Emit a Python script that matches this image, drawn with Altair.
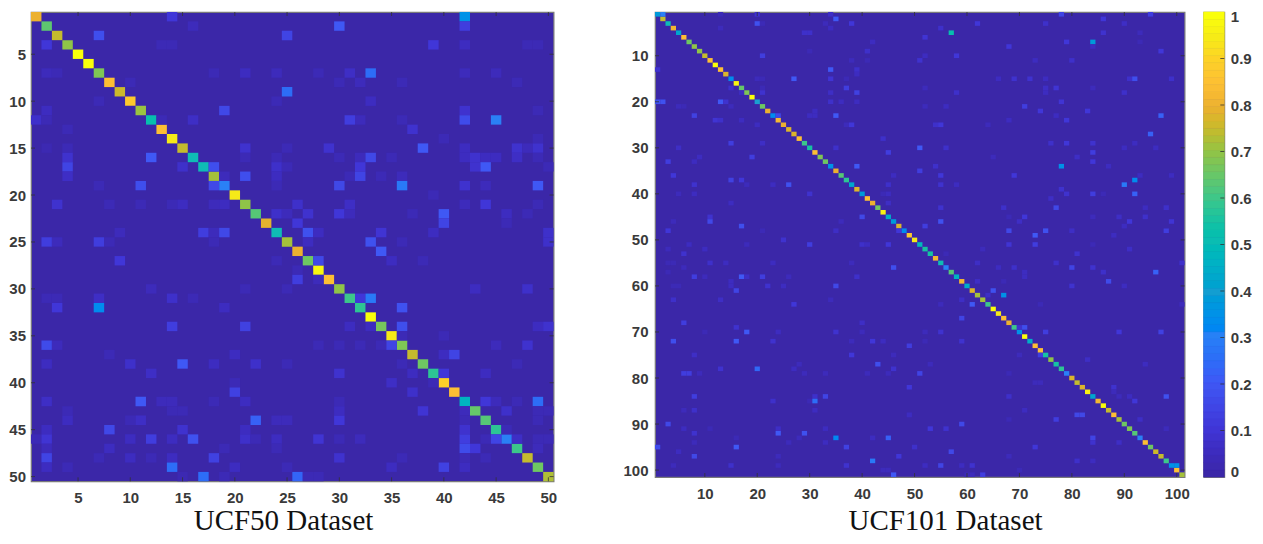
import altair as alt
import pandas as pd

# Colour map
color_stops = [0, 0.05, 0.1, 0.2, 0.3, 0.4, 0.5, 0.6, 0.7, 0.75, 0.8, 0.85, 0.9, 0.95, 1]
color_hexes = ["#3b27a8", "#3d2cc0", "#4036d8", "#3f58f5", "#2a80f6", "#1a9fd0", "#0fbcb5", "#3cc78a",
               "#8fc448", "#c4bb2e", "#ecb130", "#fdbf34", "#fdd028", "#f6ea18", "#faff0a"]
BG = "#3b27a8"

# UCF50: diagonal values for classes 1..50
ucf50_diag = [.80, .64, .75, .70, 1.0, 1.0, .68, .85, .76, .88, .71, .52, .85, .95, .75, .50, .50, .72, .30, .95,
              .70, .63, .79, .50, .72, .80, .66, .98, .85, .70, .60, .58, 1.0, .67, .95, .68, .75, .66, .58, .90,
              .85, .47, .65, .63, .58, .30, .60, .75, .66, .73]
# UCF50: off-diagonal entries (row, col, value)
ucf50_off = [
 (1,14,.10),(1,42,.35),(2,16,.04),(2,30,.20),(2,42,.12),(3,7,.17),(3,25,.14),(4,2,.10),(4,13,.03),(4,14,.03),
 (4,39,.10),(4,42,.05),(4,48,.03),(4,49,.03),(7,2,.04),(7,3,.03),(7,18,.03),(7,21,.05),(7,24,.04),(7,28,.03),
 (7,31,.06),(7,33,.25),(7,42,.04),(7,45,.04),(8,10,.03),(8,30,.03),(8,32,.04),(8,36,.03),(8,47,.03),(9,25,.25),
 (10,7,.03),(10,24,.03),(10,33,.05),(11,2,.05),(11,19,.15),(11,42,.08),(11,49,.03),(12,1,.07),(12,2,.03),(12,13,.03),
 (12,16,.06),(12,31,.12),(12,32,.04),(12,36,.03),(12,42,.16),(12,45,.30),(13,4,.03),(13,37,.08),(14,40,.03),(14,49,.03),
 (15,2,.02),(15,4,.03),(15,21,.08),(15,25,.03),(15,29,.08),(15,38,.20),(15,42,.05),(15,47,.08),(15,48,.04),(15,49,.08),
 (16,4,.08),(16,12,.20),(16,21,.03),(16,24,.03),(16,30,.03),(16,32,.04),(16,33,.15),(16,35,.03),(16,42,.05),(16,43,.08),
 (16,44,.05),(16,45,.05),(16,47,.06),(16,49,.03),(17,4,.14),(17,15,.07),(17,18,.17),(17,24,.07),(17,25,.03),(17,32,.10),
 (17,43,.08),(17,44,.20),(17,50,.03),(18,4,.06),(18,19,.04),(18,21,.17),(18,24,.05),(18,31,.03),(18,32,.14),(18,34,.03),
 (18,36,.04),(19,7,.03),(19,11,.17),(19,18,.15),(19,24,.03),(19,30,.15),(19,36,.28),(19,42,.08),(19,44,.04),(19,49,.20),
 (20,39,.03),(21,3,.08),(21,8,.03),(21,11,.03),(21,14,.03),(21,15,.05),(21,18,.04),(21,19,.05),(21,26,.07),(21,31,.06),
 (21,42,.04),(21,44,.10),(21,49,.03),(22,24,.07),(22,25,.04),(22,27,.08),(22,30,.10),(22,31,.04),(22,37,.03),(22,40,.20),
 (22,46,.05),(22,48,.03),(23,26,.10),(23,40,.14),(23,46,.03),(24,9,.04),(24,17,.12),(24,18,.04),(24,19,.15),(24,27,.18),
 (24,28,.05),(24,34,.09),(24,39,.05),(24,50,.07),(25,2,.12),(25,3,.04),(25,7,.12),(25,8,.03),(25,18,.03),(25,27,.05),
 (25,33,.18),(25,36,.03),(25,50,.07),(26,34,.20),(27,9,.10),(27,24,.03),(27,28,.15),(27,35,.05),(27,38,.03),(28,26,.03),
 (29,26,.12),(29,28,.04),(30,12,.04),(30,21,.03),(30,25,.03),(30,43,.05),(30,48,.07),(31,2,.03),(31,3,.03),(31,7,.06),
 (31,14,.07),(31,16,.03),(31,32,.10),(31,33,.28),(32,3,.10),(32,7,.33),(32,19,.05),(32,36,.18),(34,14,.12),(34,21,.13),
 (34,31,.05),(34,33,.05),(34,36,.17),(34,49,.05),(34,50,.08),(35,36,.03),(35,40,.03),(36,2,.16),(36,3,.04),(36,28,.03),
 (36,30,.03),(36,32,.03),(36,34,.03),(36,35,.14),(36,45,.04),(36,48,.08),(37,8,.03),(37,20,.05),(37,40,.05),(37,41,.14),
 (38,2,.05),(38,10,.07),(38,15,.20),(38,18,.05),(38,22,.07),(38,25,.03),(38,36,.03),(38,47,.03),(39,12,.06),(39,30,.08),
 (39,37,.05),(39,40,.10),(39,44,.05),(40,20,.03),(40,35,.06),(40,39,.03),(41,20,.13),(41,37,.07),(42,2,.06),(42,11,.20),
 (42,13,.04),(42,14,.04),(42,18,.03),(42,21,.05),(42,30,.03),(42,44,.10),(42,45,.04),(42,47,.03),(42,49,.25),(43,4,.03),
 (43,14,.03),(43,15,.03),(43,30,.05),(43,38,.09),(43,42,.04),(43,46,.07),(43,49,.03),(43,50,.03),(44,4,.05),(44,10,.03),
 (44,11,.06),(44,22,.22),(44,24,.04),(44,25,.04),(44,30,.10),(44,42,.03),(44,49,.03),(45,2,.05),(45,8,.15),(45,15,.08),
 (45,21,.05),(45,42,.08),(45,46,.03),(46,1,.03),(46,2,.09),(46,10,.05),(46,12,.12),(46,14,.05),(46,16,.18),(46,21,.07),
 (46,22,.03),(46,24,.05),(46,28,.09),(46,30,.03),(46,32,.04),(46,42,.12),(46,44,.03),(46,45,.14),(46,47,.06),(46,49,.03),
 (46,50,.03),(47,2,.04),(47,8,.05),(47,19,.03),(47,24,.03),(47,42,.16),(47,43,.10),(47,49,.04),(48,2,.14),(48,7,.03),
 (48,10,.05),(48,12,.03),(48,14,.05),(48,18,.13),(48,30,.08),(48,36,.03),(48,42,.03),(48,44,.03),(49,2,.05),(49,4,.03),
 (49,14,.25),(49,20,.05),(49,25,.03),(49,35,.05),(49,40,.13),(49,42,.05),(50,15,.02),(50,17,.25),(50,19,.03),(50,26,.23),
 (50,27,.03),(50,28,.03),
]

# UCF101: diagonal values for classes 1..101
ucf101_diag = [.38, .75, .50, .82, .42, .85, .66, .70, .70, .75, .85, 1.0, .85, .78, .33, .98, .65, .68, 1.0, .40,
               .66, .80, .33, .83, .80, .78, .78, .85, .60, .55, .85, .68, .66, .35, .80, .63, .58, .42, .78, .38,
               .85, .80, .66, .97, .45, .38, .78, .33, .88, .95, .48, .55, .55, .82, .50, .30, .63, .47, .82, .45,
               .78, .72, .72, .60, 1.0, .95, .85, .80, .60, .35, 1.0, .45, .85, .85, .55, .70, .55, .58, .30, .78,
               .75, .78, .97, .42, .82, 1.0, .75, .85, .72, .66, .68, .63, .30, .85, .66, .76, .75, .60, .35, .85, .72]
# UCF101: off-diagonal entries (row, col, value)
ucf101_off = [
 (1,2,.30),(1,13,.03),(1,20,.08),(1,34,.06),(1,78,.14),(1,95,.12),(2,35,.20),(2,86,.10),(3,20,.18),(3,21,.03),
 (3,33,.04),(3,38,.10),(3,62,.10),(3,75,.07),(3,90,.06),(4,13,.04),(4,34,.05),(4,55,.07),(5,29,.07),(5,30,.07),
 (5,57,.52),(5,86,.08),(5,93,.04),(6,52,.09),(7,42,.05),(7,79,.10),(7,84,.38),(7,93,.03),(8,68,.10),(8,84,.05),
 (9,30,.03),(9,41,.07),(9,97,.10),(10,21,.12),(10,52,.05),(10,58,.10),(11,38,.04),(11,41,.03),(11,51,.08),(11,73,.05),
 (11,80,.07),(13,1,.08),(13,34,.20),(13,39,.07),(14,39,.05),(15,20,.04),(15,21,.03),(15,27,.20),(15,34,.09),(15,37,.03),
 (15,66,.05),(15,69,.08),(15,72,.08),(15,75,.05),(15,91,.07),(15,92,.17),(15,99,.07),(17,15,.07),(17,21,.03),(17,37,.12),
 (17,52,.04),(17,75,.06),(17,77,.09),(17,84,.04),(18,17,.05),(18,21,.08),(18,34,.06),(18,39,.13),(18,58,.07),(18,75,.05),
 (18,90,.07),(20,1,.18),(20,2,.18),(20,13,.20),(20,14,.08),(20,34,.07),(20,36,.05),(20,39,.05),(20,78,.09),(21,5,.04),
 (21,6,.03),(21,15,.04),(21,52,.04),(21,56,.05),(21,71,.12),(22,31,.05),(22,74,.10),(22,83,.10),(23,8,.13),(23,24,.15),
 (23,30,.05),(23,31,.05),(23,35,.20),(23,77,.05),(23,97,.22),(24,12,.09),(24,13,.07),(24,17,.05),(24,68,.05),(24,79,.10),
 (25,20,.05),(25,37,.04),(25,38,.10),(25,54,.07),(25,55,.10),(25,64,.04),(27,95,.22),(28,44,.07),(29,15,.12),(29,21,.06),
 (29,76,.07),(29,79,.10),(29,84,.08),(29,92,.05),(30,5,.06),(30,35,.07),(30,51,.20),(30,56,.07),(30,90,.05),(30,96,.05),
 (31,45,.12),(31,84,.12),(32,9,.05),(32,19,.12),(32,65,.04),(32,81,.06),(33,3,.12),(33,8,.05),(33,84,.10),(34,39,.20),
 (34,54,.07),(34,78,.35),(34,87,.05),(35,51,.12),(36,4,.10),(36,46,.05),(36,55,.10),(36,69,.10),(36,93,.05),(36,99,.05),
 (37,15,.13),(37,17,.10),(37,92,.33),(38,8,.08),(38,18,.04),(38,23,.05),(38,26,.18),(38,45,.07),(38,55,.08),(38,58,.05),
 (38,90,.28),(39,78,.08),(40,5,.04),(40,8,.05),(40,30,.08),(40,44,.03),(40,45,.05),(40,79,.08),(40,84,.12),(40,86,.03),
 (40,92,.22),(41,76,.06),(42,15,.05),(42,45,.06),(43,55,.08),(43,67,.07),(43,77,.15),(43,94,.05),(43,98,.07),(45,11,.08),
 (45,40,.15),(45,68,.03),(45,71,.10),(45,84,.04),(45,89,.06),(45,94,.07),(46,4,.04),(46,11,.15),(46,36,.04),(46,55,.18),
 (46,70,.06),(46,91,.10),(46,99,.09),(47,17,.17),(47,52,.12),(47,90,.05),(48,3,.10),(48,21,.03),(48,35,.06),
 (48,47,.10),(48,68,.15),(48,75,.18),(48,80,.06),(48,98,.12),(49,73,.20),(49,88,.05),(50,25,.08),(51,7,.05),(51,18,.04),
 (51,30,.12),(51,40,.07),(51,41,.05),(51,45,.10),(51,68,.09),(51,73,.12),(51,84,.03),(52,3,.04),(52,10,.05),(52,63,.04),
 (52,91,.06),(53,6,.08),(53,56,.03),(53,81,.08),(55,3,.03),(55,4,.03),(55,11,.07),(55,14,.05),(55,23,.05),(55,38,.04),
 (55,62,.06),(55,77,.07),(55,101,.07),(56,6,.04),(56,46,.17),(56,66,.05),(56,69,.07),(56,80,.14),(56,84,.08),(57,3,.03),
 (57,71,.05),(57,86,.07),(57,96,.22),(58,8,.12),(58,10,.04),(58,17,.20),(58,18,.06),(58,21,.12),(58,26,.04),(58,39,.07),
 (58,71,.05),(59,15,.05),(59,62,.06),(59,67,.03),(59,87,.16),(60,4,.03),(60,5,.03),(60,15,.05),(60,22,.08),(60,25,.05),
 (60,35,.15),(60,80,.08),(60,90,.05),(61,16,.14),(61,65,.18),(62,64,.06),(62,67,.35),(63,4,.07),(63,13,.06),(63,34,.04),
 (63,59,.06),(64,27,.10),(64,55,.04),(64,61,.20),(64,74,.03),(64,101,.04),(67,59,.14),(68,6,.12),(68,40,.06),(69,16,.08),
 (69,70,.08),(69,71,.17),(70,10,.03),(70,18,.20),(70,24,.05),(70,35,.08),(70,40,.04),(70,52,.04),(70,55,.08),(70,75,.12),
 (70,89,.10),(70,97,.13),(72,4,.17),(72,16,.20),(72,23,.08),(72,38,.04),(72,42,.10),(72,44,.05),(72,52,.03),(72,59,.08),
 (73,49,.12),(75,8,.06),(75,38,.10),(75,46,.04),(75,70,.04),(75,74,.12),(76,83,.06),(77,28,.04),(77,43,.17),(77,53,.04),
 (77,94,.05),(78,13,.08),(78,20,.24),(78,27,.05),(78,46,.08),(79,6,.12),(79,7,.12),(79,9,.04),(79,29,.04),(79,33,.04),
 (79,41,.04),(79,45,.04),(79,51,.14),(79,68,.03),(81,73,.04),(81,74,.04),(82,49,.10),(82,88,.08),(83,88,.04),(84,8,.12),
 (84,31,.07),(84,33,.14),(84,68,.07),(84,89,.04),(84,91,.05),(84,98,.18),(85,23,.07),(85,30,.03),(85,31,.25),(85,92,.10),
 (87,6,.04),(87,8,.07),(87,31,.05),(87,71,.05),(88,49,.05),(88,81,.15),(88,82,.15),(89,68,.03),(89,77,.12),(89,93,.06),
 (90,3,.15),(90,59,.15),(91,6,.05),(91,11,.03),(91,24,.06),(91,33,.05),(91,53,.10),(91,56,.08),(91,98,.04),(92,8,.08),
 (92,24,.20),(92,29,.18),(93,16,.03),(93,28,.04),(93,35,.32),(93,42,.05),(93,45,.22),(93,84,.14),(94,8,.04),(94,26,.04),
 (94,33,.05),(94,84,.08),(94,89,.06),(95,1,.16),(95,16,.20),(95,37,.13),(95,50,.07),(95,73,.10),(96,5,.05),(96,57,.15),
 (97,8,.15),(97,24,.04),(97,47,.10),(97,68,.04),(98,42,.28),(98,81,.07),(98,84,.05),(99,4,.04),(99,15,.07),(99,24,.04),
 (99,37,.08),(99,52,.05),(99,55,.14),(99,59,.05),(99,61,.08),(99,100,.35),(100,44,.04),(100,45,.04),(100,70,.03),(101,46,.20),
 (101,60,.03),(101,61,.04),(101,63,.12),
]

colorbar_ticks = [0.1, 0.2, 0.3, 0.4, 0.5, 0.6, 0.7, 0.8, 0.9]
colorbar_labels = [0, 0.1, 0.2, 0.3, 0.4, 0.5, 0.6, 0.7, 0.8, 0.9, 1]
LEVELS = 64

color_scale = alt.Scale(domain=color_stops, range=color_hexes, clamp=True)
FRAME = "#7a7a7a"
TICK = "#333333"


def axis_opts(pad, **kw):
    return alt.Axis(grid=False, domain=False, ticks=False, labelFont="Liberation Sans", labelFontSize=15,
                    labelFontWeight="bold", labelColor="#3a3a3a", labelPadding=pad, **kw)


def heatmap(diag, off, n, ticks, w, h, title, title_x, title_y, ylab_pad):
    cells = [(i + 1, i + 1, v) for i, v in enumerate(diag)] + list(off)
    df = pd.DataFrame(cells, columns=["row", "col", "val"])
    df["x0"], df["x1"] = df.col - 0.5, df.col + 0.5
    df["y0"], df["y1"] = df.row - 0.5, df.row + 0.5
    xs = alt.Scale(domain=[0.5, n + 0.5], nice=False, zero=False)
    ys = alt.Scale(domain=[n + 0.5, 0.5], nice=False, zero=False)
    xa = axis_opts(9, values=ticks, title=title, titleFont="Liberation Serif", titleFontSize=29,
                   titleFontWeight="normal", titleColor="#111111", titleX=title_x, titleY=title_y,
                   titleBaseline="alphabetic")
    ya = axis_opts(ylab_pad, values=ticks, title=None)
    rects = alt.Chart(df).mark_rect(strokeWidth=0).encode(
        x=alt.X("x0:Q", scale=xs, axis=xa),
        x2="x1:Q",
        y=alt.Y("y0:Q", scale=ys, axis=ya),
        y2="y1:Q",
        color=alt.Color("val:Q", scale=color_scale, legend=None),
    )
    t = pd.DataFrame({"t": ticks})
    xt = alt.X("t:Q", scale=xs, axis=xa)
    yt = alt.Y("t:Q", scale=ys, axis=ya)
    mk = alt.Chart(t).mark_rule(color=TICK, strokeWidth=1, opacity=0.8)
    layers = [
        rects,
        mk.encode(x=xt, y=alt.value(0), y2=alt.value(4)),
        mk.encode(x=xt, y=alt.value(h), y2=alt.value(h - 4)),
        mk.encode(y=yt, x=alt.value(0), x2=alt.value(4)),
        mk.encode(y=yt, x=alt.value(w), x2=alt.value(w - 4)),
    ]
    return alt.layer(*layers).properties(width=w, height=h)


left = heatmap(ucf50_diag, ucf50_off, 50, list(range(5, 51, 5)), 522.6, 469.3, "UCF50 Dataset", 252, 48.5, 5.5)
right = heatmap(ucf101_diag, ucf101_off, 101, list(range(10, 101, 10)), 529.6, 465, "UCF101 Dataset", 290, 52.8, 7)

cb = pd.DataFrame({"level": range(LEVELS)})
cb["y0"] = cb.level / LEVELS
cb["y1"] = (cb.level + 1) / LEVELS
cb["val"] = cb.level / (LEVELS - 1)
cb_y = alt.Scale(domain=[0, 1], nice=False, zero=False)
cb_axis = alt.Axis(orient="right", values=colorbar_labels, format=".1~f", title=None, grid=False, domain=False,
                   ticks=False, labelFont="Liberation Sans", labelFontSize=15, labelFontWeight="bold",
                   labelColor="#3a3a3a", labelPadding=6, labelFlush=True, labelFlushOffset=2.8)
cb_rect = alt.Chart(cb).mark_rect(strokeWidth=0.6).encode(
    x=alt.value(0), x2=alt.value(20.7),
    y=alt.Y("y0:Q", scale=cb_y, axis=cb_axis),
    y2="y1:Q",
    color=alt.Color("val:Q", scale=color_scale, legend=None),
    stroke=alt.Stroke("val:Q", scale=color_scale, legend=None),
)
cb_ticks = alt.Chart(pd.DataFrame({"t": colorbar_ticks})).mark_rule(color=TICK, strokeWidth=1, opacity=0.8).encode(
    y=alt.Y("t:Q", scale=cb_y, axis=cb_axis), x=alt.value(20.7), x2=alt.value(16.7)
)
colorbar = alt.layer(cb_rect, cb_ticks).properties(width=20.7, height=465)

right_group = alt.hconcat(right, colorbar, spacing=18.6, bounds="flush")
chart = (
    alt.hconcat(left, right_group, spacing=101, bounds="flush")
    .properties(padding={"left": 0, "top": 0, "right": 0, "bottom": 0}, background="white")
    .configure_view(fill=BG, stroke=FRAME, strokeWidth=1.2)
)
chart.save("out.html", embed_options={"renderer": "svg", "actions": False})
